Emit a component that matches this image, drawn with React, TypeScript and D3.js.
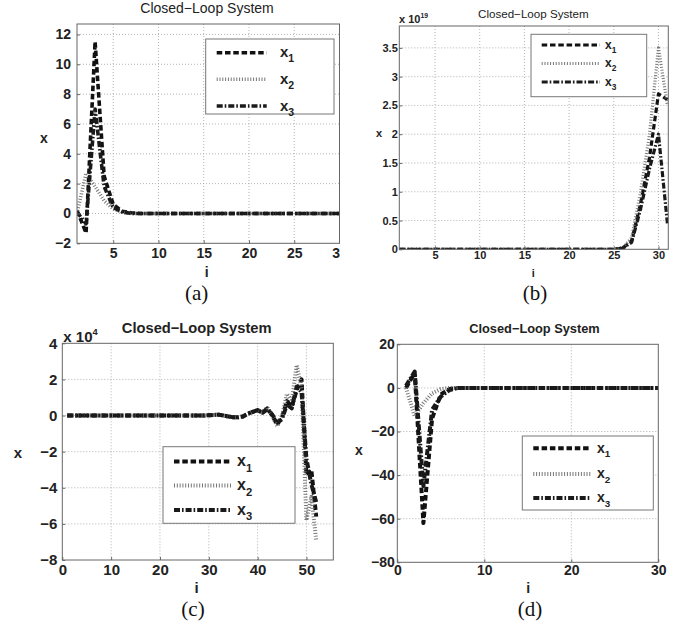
import React, { useRef, useEffect } from 'react'
import * as d3 from 'd3'

const W = 681
const H = 628
const FONT = '"Liberation Sans", Arial, Helvetica, sans-serif'

// ---- panel (a): stable, i = 1..30
const stepsA = d3.range(1, 31)
const a_x1 = [0.2, -1.3, 11.5, 2.5, 0.6, 0.15, 0.05, 0, 0, 0, 0, 0, 0, 0, 0, 0, 0, 0, 0, 0, 0, 0, 0, 0, 0, 0, 0, 0, 0, 0]
const a_x2 = [0, 2.7, 1.8, 0.85, 0.3, 0.08, 0, 0, 0, 0, 0, 0, 0, 0, 0, 0, 0, 0, 0, 0, 0, 0, 0, 0, 0, 0, 0, 0, 0, 0]
const a_x3 = [0.1, -0.7, 7.0, 1.8, 0.4, 0.1, 0, 0, 0, 0, 0, 0, 0, 0, 0, 0, 0, 0, 0, 0, 0, 0, 0, 0, 0, 0, 0, 0, 0, 0]
const a_xTicks = [5, 10, 15, 20, 25, 30]
const a_yTicks = [-2, 0, 2, 4, 6, 8, 10, 12]

// ---- panel (b): diverging, i = 1..31, values x 10^19
const stepsB = d3.range(1, 32)
const b_x1 = [0, 0, 0, 0, 0, 0, 0, 0, 0, 0, 0, 0, 0, 0, 0, 0, 0, 0, 0, 0, 0, 0, 0, 0, 0, 0.02, 0.15, 0.8, 1.6, 2.7, 2.6]
const b_x2 = [0, 0, 0, 0, 0, 0, 0, 0, 0, 0, 0, 0, 0, 0, 0, 0, 0, 0, 0, 0, 0, 0, 0, 0, 0, 0.03, 0.2, 1.0, 2.0, 3.5, 2.5]
const b_x3 = [0, 0, 0, 0, 0, 0, 0, 0, 0, 0, 0, 0, 0, 0, 0, 0, 0, 0, 0, 0, 0, 0, 0, 0, 0, 0.02, 0.12, 0.7, 1.4, 2.0, 0.45]
const b_xTicks = [5, 10, 15, 20, 25, 30]
const b_yTicks = [0, 0.5, 1, 1.5, 2, 2.5, 3, 3.5]

// ---- panel (c): oscillating, i = 1..52, values x 10^4
const stepsC = d3.range(1, 53)
const c_x1 = [0, 0, 0, 0, 0, 0, 0, 0, 0, 0, 0, 0, 0, 0, 0, 0, 0, 0, 0, 0, 0, 0, 0, 0, 0, 0, 0, 0, 0, 0.02, 0.03, 0.05, 0, -0.05, -0.1, -0.1, -0.05, 0.1, 0.2, 0.3, 0.15, 0.4, 0.0, -0.5, -0.1, 0.8, 0.5, 1.4, 2.0, -3.3, -3.0, -5.6]
const c_x2 = [0, 0, 0, 0, 0, 0, 0, 0, 0, 0, 0, 0, 0, 0, 0, 0, 0, 0, 0, 0, 0, 0, 0, 0, 0, 0, 0, 0, 0, 0.02, 0.03, 0.05, 0, -0.05, -0.1, -0.1, -0.05, 0.1, 0.2, 0.3, 0.2, 0.45, 0.0, -0.6, 0.0, 1.2, 0.8, 2.8, 1.5, -5.8, -4.5, -6.9]
const c_x3 = [0, 0, 0, 0, 0, 0, 0, 0, 0, 0, 0, 0, 0, 0, 0, 0, 0, 0, 0, 0, 0, 0, 0, 0, 0, 0, 0, 0, 0, 0.02, 0.03, 0.05, 0, -0.05, -0.1, -0.1, -0.05, 0.1, 0.2, 0.3, 0.15, 0.35, 0.05, -0.4, -0.2, 0.6, 0.4, 1.6, 1.3, -2.4, -3.8, -4.8]
const c_xTicks = [0, 10, 20, 30, 40, 50]
const c_yTicks = [-8, -6, -4, -2, 0, 2, 4]

// ---- panel (d): stable, i = 1..30
const stepsD = d3.range(1, 31)
const d_x1 = [0, 7, -62, -14, -3, -0.5, 0, 0, 0, 0, 0, 0, 0, 0, 0, 0, 0, 0, 0, 0, 0, 0, 0, 0, 0, 0, 0, 0, 0, 0]
const d_x2 = [0, -13, -7, -2.5, -0.5, 0, 0, 0, 0, 0, 0, 0, 0, 0, 0, 0, 0, 0, 0, 0, 0, 0, 0, 0, 0, 0, 0, 0, 0, 0]
const d_x3 = [1, 7.5, -45, -10, -4, -1, 0, 0, 0, 0, 0, 0, 0, 0, 0, 0, 0, 0, 0, 0, 0, 0, 0, 0, 0, 0, 0, 0, 0, 0]
const d_xTicks = [0, 10, 20, 30]
const d_yTicks = [-80, -60, -40, -20, 0, 20]

const seriesNames = ['1', '2', '3']

// line styles for x1 (dashed), x2 (dotted), x3 (dash-dot)
const styles = [
  { color: '#111', dash: '5.5,2.8' },
  { color: '#777', dash: '1,1.8' },
  { color: '#1a1a1a', dash: '6,2,1.6,2' },
]

const panels = [
  {
    id: 'a', steps: stepsA, series: [a_x1, a_x2, a_x3],
    xDomain: [1, 30], yDomain: [-2, 12.7], xTicks: a_xTicks, yTicks: a_yTicks,
    box: { l: 77, r: 339.5, t: 24, b: 243.3 },
    clipRight: 340,
    tickFont: 14, xPad: 5, yPad: 6, lw: 3.6,
    title: { x: 207, y: 13, size: 14, weight: 'normal' },
    xLabel: { x: 206.7, y: 277 }, yLabel: { x: 44, y: 143 },
    tag: { text: '(a)', x: 196.7, y: 300 },
    legend: { x0: 205.7, x1: 334, y0: 39, y1: 114, rows: [52.7, 79.3, 106], s0: 216.7, s1: 266.7, lx: 280, fs: 15 },
  },
  {
    id: 'b', steps: stepsB, series: [b_x1, b_x2, b_x3],
    xDomain: [1, 31.1], yDomain: [0, 3.88], xTicks: b_xTicks, yTicks: b_yTicks,
    box: { l: 399.3, r: 668.3, t: 26, b: 249.3 },
    tickFont: 11, xPad: 1.5, yPad: 1.5, lw: 3.2,
    title: { x: 533.3, y: 17.5, size: 11.6, weight: 'normal' },
    xLabel: { x: 533.3, y: 277 }, yLabel: { x: 379, y: 137 },
    tag: { text: '(b)', x: 535, y: 300 },
    exp: { x: 399, y: 23, base: 'x 10', pow: '19', fs: 11 },
    legend: { x0: 531, x1: 646.7, y0: 34.3, y1: 96.7, rows: [45, 63.5, 82], s0: 541.7, s1: 600, lx: 605, fs: 12 },
  },
  {
    id: 'c', steps: stepsC, series: [c_x1, c_x2, c_x3],
    xDomain: [0, 55.5], yDomain: [-8, 4], xTicks: c_xTicks, yTicks: c_yTicks,
    box: { l: 62.3, r: 333.3, t: 343.3, b: 560 },
    tickFont: 15, xPad: 4, yPad: 5, lw: 4,
    title: { x: 196.7, y: 332.7, size: 14.7, weight: 'bold' },
    xLabel: { x: 196.7, y: 593 }, yLabel: { x: 18, y: 458 },
    tag: { text: '(c)', x: 193, y: 616 },
    exp: { x: 63.3, y: 341.5, base: 'x 10', pow: '4', fs: 15 },
    legend: { x0: 163, x1: 295, y0: 446.7, y1: 523.3, rows: [461.5, 485.5, 510], s0: 174, s1: 231.7, lx: 237, fs: 16 },
  },
  {
    id: 'd', steps: stepsD, series: [d_x1, d_x2, d_x3],
    xDomain: [0, 30], yDomain: [-80, 20], xTicks: d_xTicks, yTicks: d_yTicks,
    box: { l: 397.3, r: 658.3, t: 344.3, b: 562.3 },
    tickFont: 14, xPad: 3, yPad: 2.5, lw: 4,
    title: { x: 534.5, y: 332.7, size: 12.8, weight: 'bold' },
    xLabel: { x: 528.3, y: 593 }, yLabel: { x: 359, y: 455 },
    tag: { text: '(d)', x: 530, y: 616 },
    legend: { x0: 522.3, x1: 653.3, y0: 436, y1: 510, rows: [448.3, 474, 498], s0: 533.3, s1: 590.7, lx: 597, fs: 14 },
  },
]

const tickFmt = d3.format('~g')

function drawPanel(root, p) {
  const g = root.append('g')
  if (p.clipRight) {
    root.append('clipPath').attr('id', 'panel-' + p.id)
      .append('rect').attr('x', 0).attr('y', 0).attr('width', p.clipRight).attr('height', H)
    g.attr('clip-path', `url(#panel-${p.id})`)
  }
  const { l, r, t, b } = p.box
  const x = d3.scaleLinear().domain(p.xDomain).range([l, r])
  const y = d3.scaleLinear().domain(p.yDomain).range([b, t])

  g.append('rect').attr('x', l).attr('y', t).attr('width', r - l).attr('height', b - t).attr('fill', '#fff')

  // dotted grid
  g.selectAll('.gx')
    .data(p.xTicks.filter((v) => x(v) > l + 1 && x(v) < r - 1))
    .join('line')
    .attr('x1', (d) => x(d)).attr('x2', (d) => x(d))
    .attr('y1', t).attr('y2', b)
    .attr('stroke', '#aaa').attr('stroke-dasharray', '1,2').attr('stroke-width', 0.9)
  g.selectAll('.gy')
    .data(p.yTicks.filter((v) => y(v) > t + 1 && y(v) < b - 1))
    .join('line')
    .attr('x1', l).attr('x2', r)
    .attr('y1', (d) => y(d)).attr('y2', (d) => y(d))
    .attr('stroke', '#aaa').attr('stroke-dasharray', '1,2').attr('stroke-width', 0.9)

  // series
  const clipId = 'clip-' + p.id
  g.append('clipPath').attr('id', clipId)
    .append('rect').attr('x', l).attr('y', t).attr('width', r - l).attr('height', b - t)
  const line = d3.line().x((d, i) => x(p.steps[i])).y((d) => y(d))
  p.series.forEach((vals, k) => {
    g.append('path')
      .attr('d', line(vals))
      .attr('clip-path', `url(#${clipId})`)
      .attr('fill', 'none')
      .attr('stroke', styles[k].color)
      .attr('stroke-width', p.lw)
      .attr('stroke-dasharray', styles[k].dash)
      .attr('stroke-linejoin', 'round')
  })

  // axes
  const xAxis = g.append('g')
    .attr('transform', `translate(0,${b})`)
    .call(d3.axisBottom(x).tickValues(p.xTicks).tickFormat(tickFmt).tickSize(-3).tickPadding(p.xPad))
  const yAxis = g.append('g')
    .attr('transform', `translate(${l},0)`)
    .call(d3.axisLeft(y).tickValues(p.yTicks).tickFormat(tickFmt).tickSize(-3).tickPadding(p.yPad))
  ;[xAxis, yAxis].forEach((ax) => {
    ax.select('.domain').remove()
    ax.selectAll('line').attr('stroke', '#666')
    ax.selectAll('text')
      .attr('fill', '#222')
      .style('font-family', FONT)
      .style('font-weight', 'bold')
      .style('font-size', p.tickFont + 'px')
  })

  g.append('rect').attr('x', l).attr('y', t).attr('width', r - l).attr('height', b - t)
    .attr('fill', 'none').attr('stroke', '#666').attr('stroke-width', 1)

  // exponent label
  if (p.exp) {
    const e = g.append('text').attr('x', p.exp.x).attr('y', p.exp.y)
      .attr('fill', '#222').style('font-family', FONT).style('font-weight', 'bold')
      .style('font-size', p.exp.fs + 'px')
    e.append('tspan').text(p.exp.base)
    e.append('tspan').attr('dy', -p.exp.fs * 0.45).style('font-size', p.exp.fs * 0.62 + 'px').text(p.exp.pow)
  }

  // legend
  const lg = p.legend
  g.append('rect').attr('x', lg.x0).attr('y', lg.y0).attr('width', lg.x1 - lg.x0).attr('height', lg.y1 - lg.y0)
    .attr('fill', '#fff').attr('stroke', '#777').attr('stroke-width', 1)
  seriesNames.forEach((name, k) => {
    const ry = lg.rows[k]
    g.append('line')
      .attr('x1', lg.s0).attr('x2', lg.s1).attr('y1', ry).attr('y2', ry)
      .attr('stroke', styles[k].color).attr('stroke-width', p.lw)
      .attr('stroke-dasharray', styles[k].dash)
    const tx = g.append('text').attr('x', lg.lx).attr('y', ry + lg.fs * 0.3)
      .attr('fill', '#222').style('font-family', FONT).style('font-weight', 'bold')
      .style('font-size', lg.fs + 'px')
    tx.append('tspan').text('x')
    tx.append('tspan').attr('dy', lg.fs * 0.35).style('font-size', lg.fs * 0.7 + 'px').text(name)
  })

  // titles and labels
  g.append('text').attr('x', p.title.x).attr('y', p.title.y).attr('text-anchor', 'middle')
    .attr('fill', '#222').style('font-family', FONT).style('font-weight', p.title.weight)
    .style('font-size', p.title.size + 'px').text('Closed\u2212Loop System')
  g.append('text').attr('x', p.xLabel.x).attr('y', p.xLabel.y).attr('text-anchor', 'middle')
    .attr('fill', '#222').style('font-family', FONT).style('font-weight', 'bold')
    .style('font-size', p.tickFont + 'px').text('i')
  g.append('text').attr('x', p.yLabel.x).attr('y', p.yLabel.y).attr('text-anchor', 'middle')
    .attr('fill', '#222').style('font-family', FONT).style('font-weight', 'bold')
    .style('font-size', p.tickFont + 'px').text('x')
  g.append('text').attr('x', p.tag.x).attr('y', p.tag.y).attr('text-anchor', 'middle')
    .attr('fill', '#111').style('font-family', '"Liberation Serif", "Times New Roman", serif')
    .style('font-size', '21px').text(p.tag.text)
}

const App = () => {
  const svgRef = useRef(null)

  useEffect(() => {
    const svg = d3.select(svgRef.current)
    svg.selectAll('*').remove()
    svg.append('rect').attr('width', W).attr('height', H).attr('fill', '#fff')
    panels.forEach((p) => drawPanel(svg, p))
  }, [])

  return (
    <svg
      ref={svgRef}
      width={W}
      height={H}
      style={{ position: 'absolute', left: 0, top: 0, background: '#fff' }}
    ></svg>
  )
}

export default App
